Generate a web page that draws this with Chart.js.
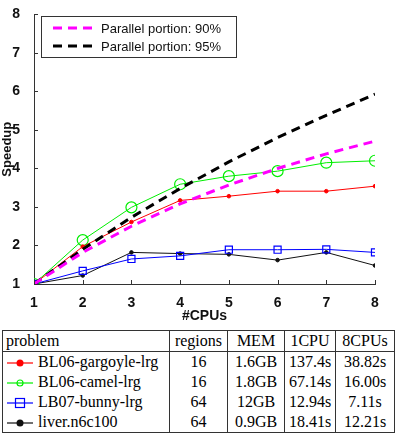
<!DOCTYPE html>
<html>
<head>
<meta charset="utf-8">
<script src="https://cdn.jsdelivr.net/npm/chart.js@4.4.0/dist/chart.umd.min.js"></script>
<style>
  body { margin: 0; background: #fff; width: 396px; height: 437px; overflow: hidden; position: relative; }
  #wrap { position: absolute; left: 0; top: 0; width: 396px; height: 325px; }
  #tbl { position: absolute; left: 2px; top: 330px; border-collapse: collapse; font-family: "Liberation Serif", "DejaVu Serif", serif; font-size: 16px; color: #000; border: 1px solid #333; }
  #tbl td, #tbl th { font-weight: normal; padding: 0 2px; height: 20px; text-align: center; border-left: 1px solid #333; white-space: nowrap; }
  #tbl th { height: 20px; border-bottom: 1px solid #333; }
  #tbl td:first-child, #tbl th:first-child { text-align: left; border-left: none; padding-left: 3px; }
  #tbl svg { vertical-align: middle; margin-right: 4px; }
</style>
</head>
<body>
<div id="wrap"><canvas id="chartOne"></canvas></div>
<table id="tbl"></table>
<script>
// datos
let cpus = [1, 2, 3, 4, 5, 6, 7, 8];
let amdahl90 = [1, 1.82, 2.50, 3.08, 3.57, 4.00, 4.38, 4.71];
let amdahl95 = [1, 1.90, 2.73, 3.48, 4.17, 4.80, 5.38, 5.93];
let gargoyle = [1, 1.97, 2.61, 3.17, 3.28, 3.41, 3.41, 3.54];
let camel = [1, 2.14, 2.99, 3.59, 3.80, 3.93, 4.15, 4.20];
let bunny = [1, 1.34, 1.65, 1.73, 1.89, 1.89, 1.90, 1.82];
let liver = [1, 1.22, 1.82, 1.79, 1.77, 1.62, 1.82, 1.48];
let yTicks = [1, 2, 3, 4, 5, 6, 7, 8];

let problemas = ['BL06-gargoyle-lrg', 'BL06-camel-lrg', 'LB07-bunny-lrg', 'liver.n6c100'];
let regiones = ['16', '16', '64', '64'];
let memoria = ['1.6GB', '1.8GB', '12GB', '0.9GB'];
let tiempo1 = ['137.4s', '67.14s', '12.94s', '18.41s'];
let tiempo8 = ['38.82s', '16.00s', '7.11s', '12.21s'];

function pts(arr){ return arr.map((v, i) => ({x: cpus[i], y: v})); }

// ticks hacia adentro y leyenda con caja
const extras = {
    id: 'extras',
    afterDraw(chart) {
        const ctx = chart.ctx;
        const xs = chart.scales.x, ys = chart.scales.y;
        ctx.save();
        ctx.strokeStyle = '#333';
        ctx.lineWidth = 1;
        cpus.forEach(v => {
            let px = Math.round(xs.getPixelForValue(v)) + 0.5;
            ctx.beginPath(); ctx.moveTo(px, ys.bottom); ctx.lineTo(px, ys.bottom - 4); ctx.stroke();
        });
        yTicks.forEach(v => {
            let py = Math.round(ys.getPixelForValue(v)) + 0.5;
            ctx.beginPath(); ctx.moveTo(xs.left, py); ctx.lineTo(xs.left + 4, py); ctx.stroke();
        });
        // leyenda
        ctx.fillStyle = '#fff';
        ctx.fillRect(41.5, 16.5, 195, 41);
        ctx.strokeStyle = '#333';
        ctx.strokeRect(41.5, 16.5, 195, 41);
        [0, 1].forEach(i => {
            const ds = chart.data.datasets[i];
            const y = 28 + i * 18;
            ctx.strokeStyle = ds.borderColor;
            ctx.lineWidth = 3;
            ctx.setLineDash([9, 6]);
            ctx.beginPath(); ctx.moveTo(53, y); ctx.lineTo(96, y); ctx.stroke();
            ctx.setLineDash([]);
            ctx.fillStyle = '#111';
            ctx.font = '13px "Liberation Sans", Arial, sans-serif';
            ctx.textBaseline = 'middle';
            ctx.fillText(ds.label, 101, y + 1);
        });
        ctx.restore();
    }
};

var ctxOne = document.getElementById('chartOne').getContext('2d');
var chartOne = new Chart(ctxOne, {
    type: 'line',
    data: {
        datasets: [{
            label: 'Parallel portion: 90%',
            data: pts(amdahl90),
            borderColor: '#ff00ff',
            borderWidth: 3,
            borderDash: [9, 6],
            pointRadius: 0
        }, {
            label: 'Parallel portion: 95%',
            data: pts(amdahl95),
            borderColor: '#000000',
            borderWidth: 3,
            borderDash: [9, 6],
            pointRadius: 0
        }, {
            label: problemas[0],
            data: pts(gargoyle),
            borderColor: '#ff0000',
            backgroundColor: '#ff0000',
            borderWidth: 1,
            pointRadius: 1.8,
            pointStyle: 'circle'
        }, {
            label: problemas[1],
            data: pts(camel),
            borderColor: '#00ee00',
            backgroundColor: 'rgba(0,0,0,0)',
            borderWidth: 1,
            pointRadius: 5.5,
            pointBorderWidth: 1.2,
            pointStyle: 'circle'
        }, {
            label: problemas[2],
            data: pts(bunny),
            borderColor: '#0000ff',
            backgroundColor: 'rgba(0,0,0,0)',
            borderWidth: 1,
            pointRadius: 5,
            pointBorderWidth: 1.2,
            pointStyle: 'rect'
        }, {
            label: problemas[3],
            data: pts(liver),
            borderColor: '#111111',
            backgroundColor: '#111111',
            borderWidth: 1,
            pointRadius: 1.8,
            pointStyle: 'circle'
        }]
    },
    options: {
        responsive: true,
        maintainAspectRatio: false,
        animation: false,
        layout: { padding: { left: 0, right: 21, top: 9, bottom: 0 } },
        plugins: {
            legend: { display: false },
            tooltip: { enabled: false }
        },
        scales: {
            x: {
                type: 'linear',
                min: 1, max: 8,
                afterFit: s => { s.height = 41; },
                ticks: { stepSize: 1, color: '#111', padding: 3, font: { family: '"Liberation Sans", Arial, sans-serif', size: 14, weight: 'bold' } },
                grid: { display: false },
                border: { color: '#333', width: 1 },
                title: { display: true, text: '#CPUs', color: '#111', padding: { top: 0, bottom: 0 }, font: { family: '"Liberation Sans", Arial, sans-serif', size: 14, weight: 'bold' } }
            },
            y: {
                min: 1, max: 8,
                afterFit: s => { s.width = 34; },
                ticks: { stepSize: 1, color: '#111', padding: 6, font: { family: '"Liberation Sans", Arial, sans-serif', size: 14, weight: 'bold' } },
                grid: { display: false },
                border: { color: '#333', width: 1 },
                title: { display: true, text: 'Speedup', color: '#111', padding: { top: 0, bottom: 0 }, font: { family: '"Liberation Sans", Arial, sans-serif', size: 13, weight: 'bold' } }
            }
        }
    },
    plugins: [extras]
});

// tabla de problemas
let colores = ['#ff0000', '#00ee00', '#0000ff', '#111111'];
function marcador(i){
    let c = colores[i];
    let m = '';
    if (i === 0 || i === 3) m = `<circle cx="14" cy="7" r="3.5" fill="${c}"/>`;
    if (i === 1) m = `<circle cx="14" cy="7" r="3" fill="none" stroke="${c}" stroke-width="1.2"/>`;
    if (i === 2) m = `<rect x="9.5" y="2.5" width="9" height="9" fill="none" stroke="${c}" stroke-width="1.2"/>`;
    return `<svg width="28" height="14"><line x1="1" y1="7" x2="27" y2="7" stroke="${c}" stroke-width="1.2"/>${m}</svg>`;
}
let tbl = document.getElementById('tbl');
let html = '<tr><th style="width:161px">problem</th><th style="width:53px">regions</th><th style="width:52px">MEM</th><th style="width:46px">1CPU</th><th style="width:54px">8CPUs</th></tr>';
problemas.forEach((p, i) => {
    html += `<tr><td>${marcador(i)}${p}</td><td>${regiones[i]}</td><td>${memoria[i]}</td><td>${tiempo1[i]}</td><td>${tiempo8[i]}</td></tr>`;
});
tbl.innerHTML = html;
</script>
</body>
</html>
